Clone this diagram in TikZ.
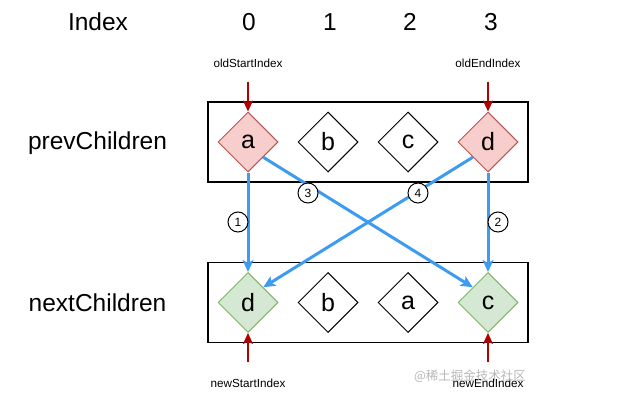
\documentclass[tikz,border=0pt]{standalone}
\usepackage{fontspec}
\setmainfont{Liberation Sans}
\newfontfamily\cjk{Noto Sans CJK SC}
\usetikzlibrary{shapes.geometric,arrows.meta}
\definecolor{redarrow}{HTML}{B20000}
\definecolor{bluearrow}{HTML}{3D9BF0}
\definecolor{pinkfill}{HTML}{F8CECC}
\definecolor{pinkline}{HTML}{B85450}
\definecolor{greenfill}{HTML}{D5E8D4}
\definecolor{greenline}{HTML}{82B366}
\begin{document}
\begin{tikzpicture}[x=1pt,y=-1pt,
  dia/.style={diamond, draw, line width=1pt, minimum width=60pt, minimum height=60pt, inner sep=0pt, font=\fontsize{25}{25}\selectfont},
  pinkdia/.style={dia, fill=pinkfill, draw=pinkline},
  greendia/.style={dia, fill=greenfill, draw=greenline},
  bigtext/.style={font=\fontsize{24.5}{25}\selectfont},
  smalltext/.style={font=\fontsize{11.7}{12}\selectfont},
  row/.style={draw, line width=1.2pt, minimum width=320pt, minimum height=80pt, inner sep=0pt},
  redarr/.style={draw=redarrow, line width=2pt, -{Stealth[length=11pt,width=10pt,inset=2.5pt]}},
  bluearr/.style={draw=bluearrow, line width=3pt, -{Stealth[length=12pt,width=11pt,inset=3pt]}},
  num/.style={circle, draw, line width=1pt, fill=white, minimum size=20pt, inner sep=0pt, font=\fontsize{12}{12}\selectfont},
]
\useasboundingbox (0,0) rectangle (617,409);
% index row
\node[bigtext] (idx) at (98,22) {Index};
\node[bigtext] (i0) at (249,22) {0};
\node[bigtext] (i1) at (330,22) {1};
\node[bigtext] (i2) at (410,22) {2};
\node[bigtext] (i3) at (491,22) {3};
% row labels
\node[bigtext] (prevl) at (97.5,143) {prevChildren};
\node[bigtext] (nextl) at (97.5,303) {nextChildren};
% boxes
\node[row] (prevbox) at (368,142) {};
\node[row] (nextbox) at (368,302.5) {};
% prev diamonds
\node[pinkdia] (pa) at (248,142) {a};
\node[dia] (pb) at (328,142) {b};
\node[dia] (pc) at (408,142) {c};
\node[pinkdia] (pd) at (488,142) {d};
% next diamonds
\node[greendia] (nd) at (248,302.5) {d};
\node[dia] (nb) at (328,302.5) {b};
\node[dia] (na) at (408,302.5) {a};
\node[greendia] (nc) at (488,302.5) {c};
% index labels
\node[smalltext] (osi) at (248,63) {oldStartIndex};
\node[smalltext] (oei) at (488,63) {oldEndIndex};
\node[smalltext] (nsi) at (248,383) {newStartIndex};
\node[smalltext] (nei) at (488,383) {newEndIndex};
\node[font=\cjk\fontsize{12.5}{13}\selectfont, text=black!28] (wm) at (470,376) {@稀土掘金技术社区};
% red arrows
\coordinate (osit) at (248,82);
\coordinate (oeit) at (488,82);
\coordinate (nsit) at (248,362);
\coordinate (neit) at (488,362);
\draw[redarr] (osit) -- (pa.north);
\draw[redarr] (oeit) -- (pd.north);
\draw[redarr] (nsit) -- (nd.south);
\draw[redarr] (neit) -- (nc.south);
% blue arrows
\draw[bluearr] (pa.south) -- (nd.north);
\draw[bluearr] (pd.south) -- (nc.north);
\draw[bluearr] (pa.south east) -- (nc.north west);
\draw[bluearr] (pd.south west) -- (nd.north east);
% circled numbers
\node[num] (c1) at (238,222) {1};
\node[num] (c2) at (498,222) {2};
\node[num] (c3) at (308,193) {3};
\node[num] (c4) at (418,193) {4};
\end{tikzpicture}
\end{document}
